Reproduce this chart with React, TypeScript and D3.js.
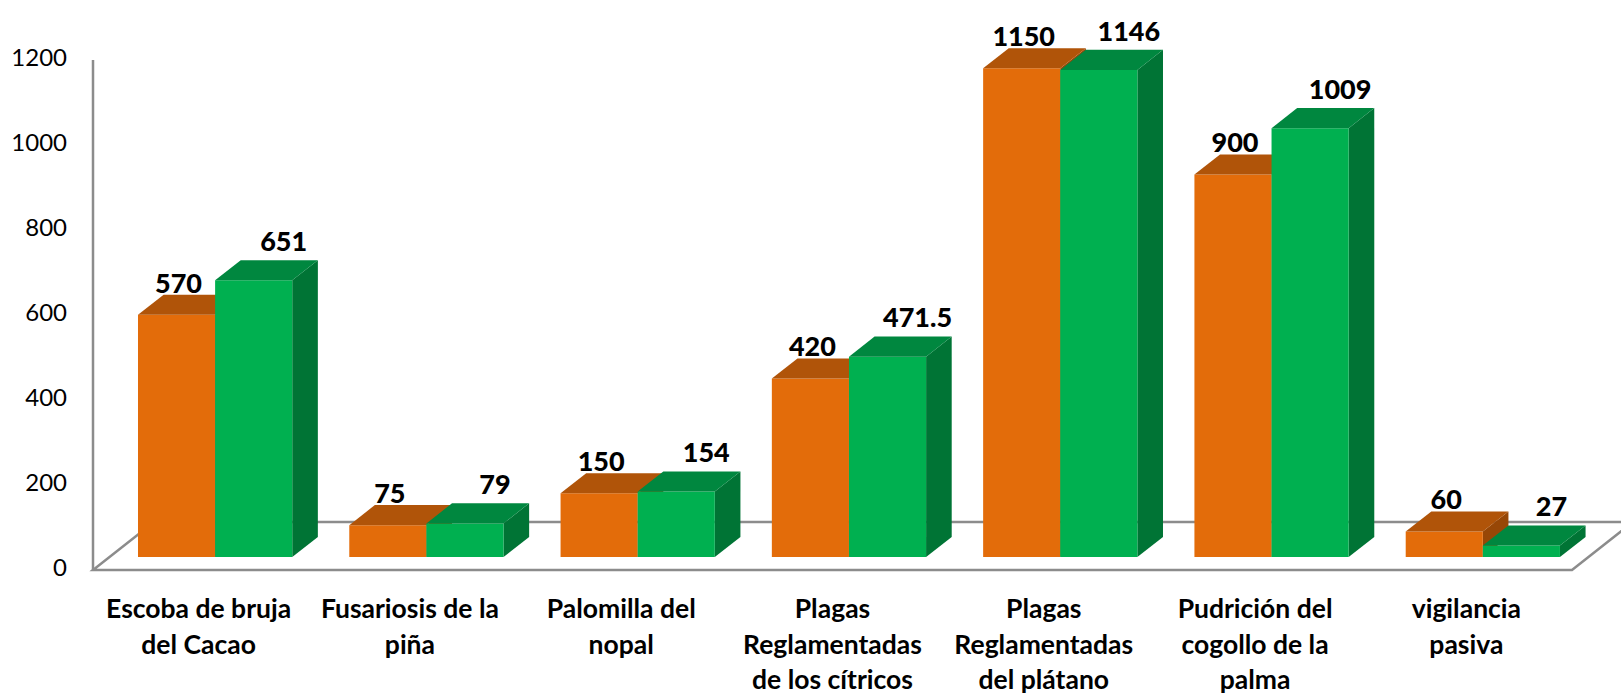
import React from "react";
import * as d3 from "d3";

const categories: string[][] = [
  ["Escoba de bruja", "del Cacao"],
  ["Fusariosis de la", "piña"],
  ["Palomilla del", "nopal"],
  ["Plagas", "Reglamentadas", "de los cítricos"],
  ["Plagas", "Reglamentadas", "del plátano"],
  ["Pudrición del", "cogollo de la", "palma"],
  ["vigilancia", "pasiva"],
];
const orangeValues = [570, 75, 150, 420, 1150, 900, 60];
const greenValues = [651, 79, 154, 471.5, 1146, 1009, 27];
const yTicks = [0, 200, 400, 600, 800, 1000, 1200];

const W = 1621;
const H = 695;
const left = 93;
const right = 1572;
const floorY = 570;
const depth = { dx: 61, dy: -48 };
const d0 = 0.27;
const d1 = 0.69;
const font = "Lato, 'Open Sans', sans-serif";

const series = [
  { values: orangeValues, front: "#E36C0A", top: "#B05409", side: "#974706", nudge: 2, lift: 2 },
  { values: greenValues, front: "#00B050", top: "#00873F", side: "#007435", nudge: 30, lift: 9 },
];

export default function App() {
  const y = d3.scaleLinear().domain([0, 1200]).range([floorY, 60]);
  const x = d3
    .scaleBand<number>()
    .domain(d3.range(categories.length))
    .range([left, right])
    .paddingInner(0.27)
    .paddingOuter(0.135);
  const xs = d3.scaleBand<number>().domain([0, 1]).range([0, x.bandwidth()]);

  const fx = d0 * depth.dx;
  const fy = d0 * depth.dy;
  const bx = d1 * depth.dx;
  const by = d1 * depth.dy;
  const pts = (p: number[][]) => p.map((q) => q.join(",")).join(" ");

  const floor = [
    [left, floorY],
    [right, floorY],
    [right + depth.dx, floorY + depth.dy],
    [left + depth.dx, floorY + depth.dy],
  ];

  return (
    <svg
      width={W}
      height={H}
      style={{ position: "absolute", left: 0, top: 0, background: "#fff" }}
    >
      <polygon points={pts(floor)} fill="#fff" stroke="#8c8c8c" strokeWidth={2.5} />
      <line x1={left} x2={left} y1={y(0)} y2={y(1200)} stroke="#8c8c8c" strokeWidth={2.5} />

      {yTicks.map((t) => (
        <text
          key={t}
          x={67}
          y={y(t)}
          textAnchor="end"
          dominantBaseline="middle"
          fontFamily={font}
          fontSize={24}
          fill="#000"
        >
          {t}
        </text>
      ))}

      {categories.map((c, i) =>
        series.map((s, k) => {
          const v = s.values[i];
          const x0 = (x(i) as number) + (xs(k) as number);
          const x1 = x0 + xs.bandwidth();
          const yb = y(0);
          const yt = y(v);
          const front = [
            [x0 + fx, yb + fy],
            [x1 + fx, yb + fy],
            [x1 + fx, yt + fy],
            [x0 + fx, yt + fy],
          ];
          const top = [
            [x0 + fx, yt + fy],
            [x1 + fx, yt + fy],
            [x1 + bx, yt + by],
            [x0 + bx, yt + by],
          ];
          const side = [
            [x1 + fx, yb + fy],
            [x1 + bx, yb + by],
            [x1 + bx, yt + by],
            [x1 + fx, yt + fy],
          ];
          return (
            <g key={`${i}-${k}`}>
              <polygon points={pts(side)} fill={s.side} />
              <polygon points={pts(front)} fill={s.front} />
              <polygon points={pts(top)} fill={s.top} />
              <text
                x={(x0 + x1) / 2 + fx + s.nudge}
                y={yt + by - s.lift}
                textAnchor="middle"
                fontFamily={font}
                fontWeight={900}
                fontSize={27}
                fill="#000"
              >
                {v}
              </text>
            </g>
          );
        })
      )}

      {categories.map((lines, i) => (
        <text
          key={i}
          x={(x(i) as number) + x.bandwidth() / 2}
          y={618}
          textAnchor="middle"
          fontFamily={font}
          fontWeight="bold"
          fontSize={26.5}
          fill="#000"
        >
          {lines.map((l, j) => (
            <tspan key={j} x={(x(i) as number) + x.bandwidth() / 2} dy={j === 0 ? 0 : 35.5}>
              {l}
            </tspan>
          ))}
        </text>
      ))}
    </svg>
  );
}
